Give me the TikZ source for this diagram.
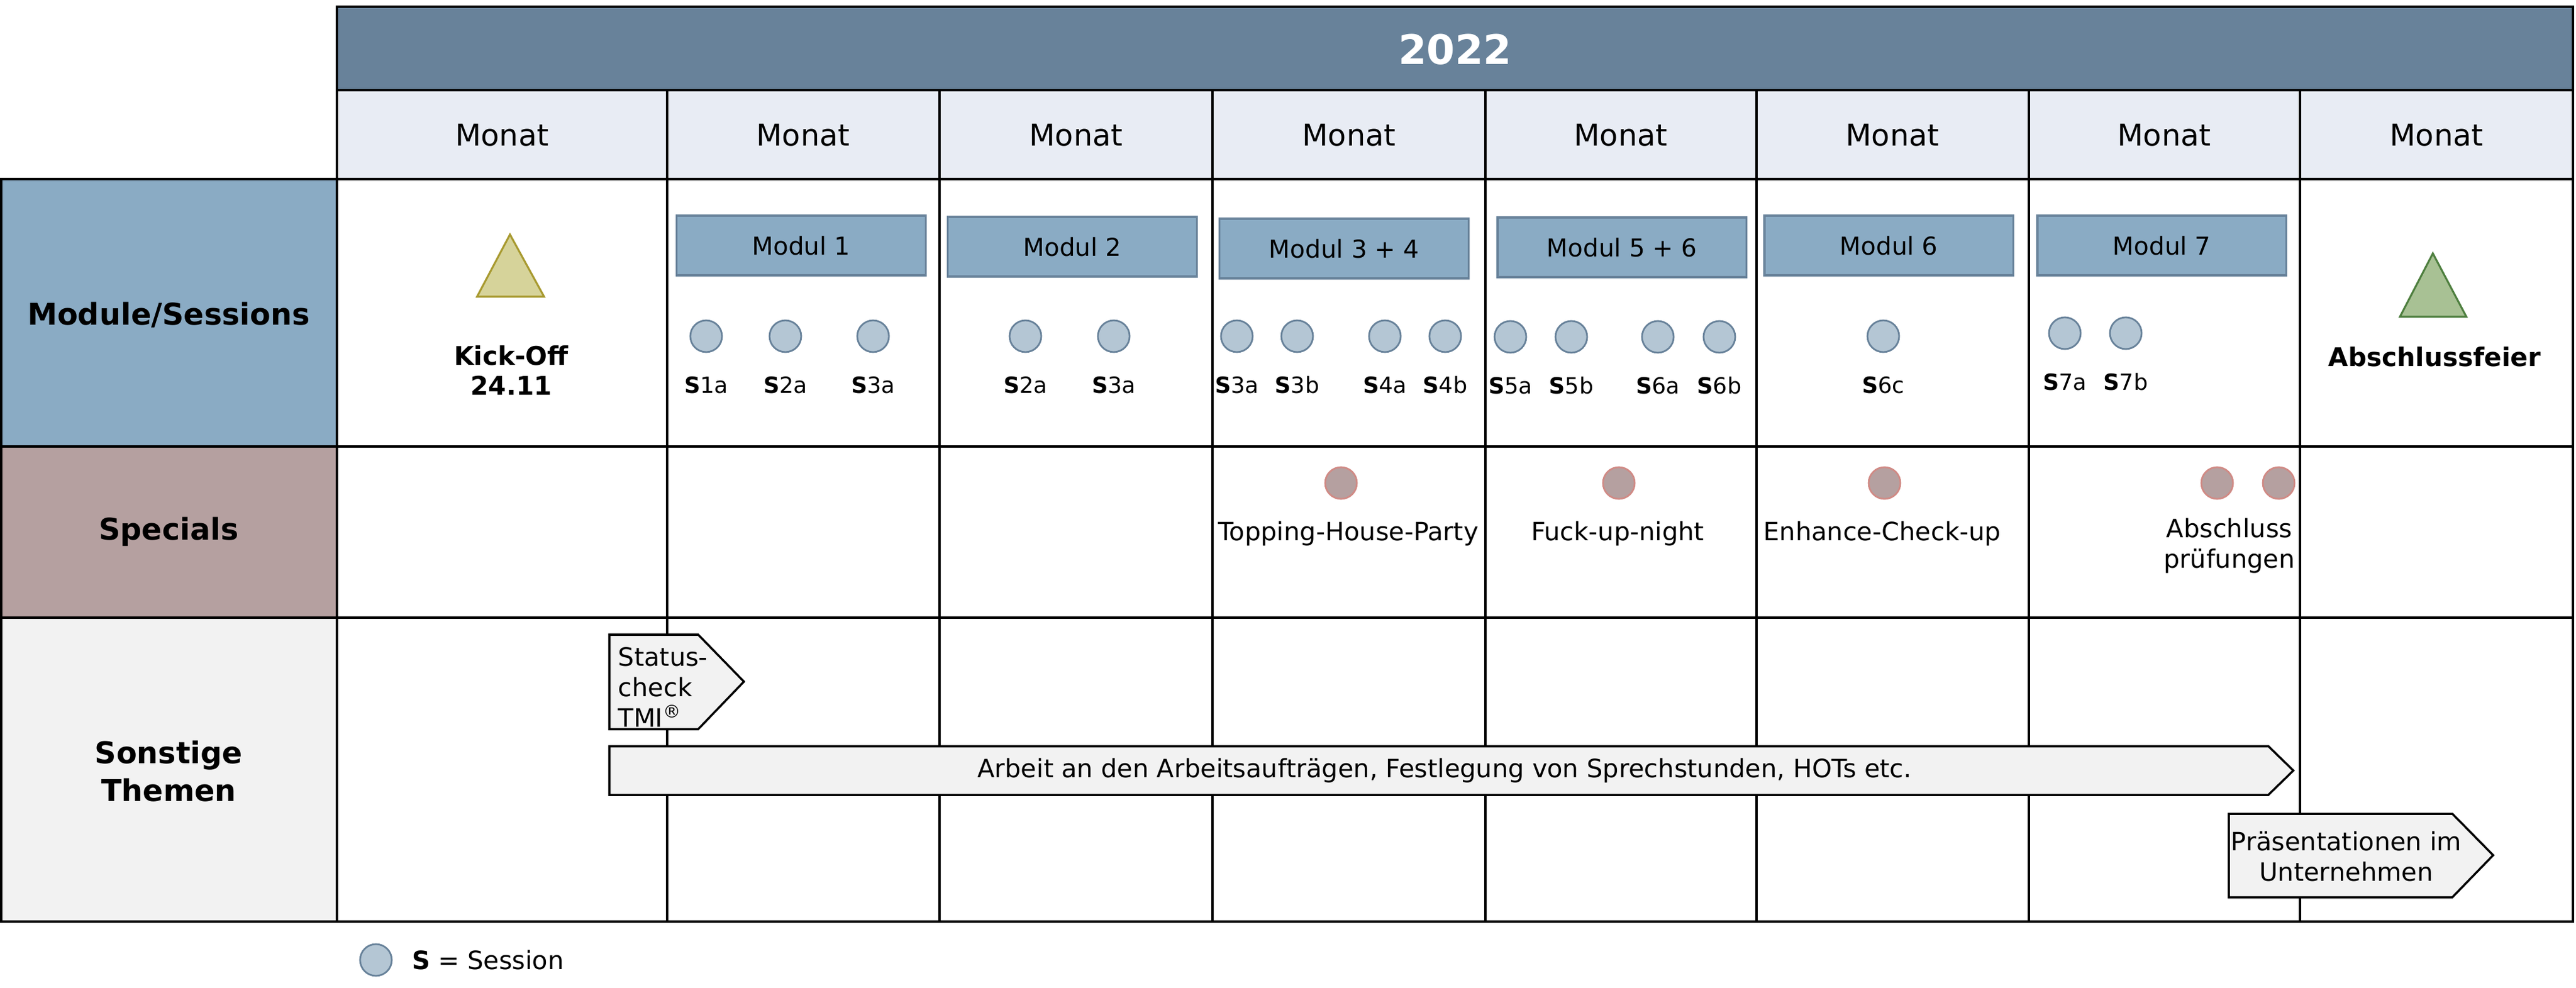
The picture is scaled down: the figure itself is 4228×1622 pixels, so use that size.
\documentclass[tikz,border=0pt]{standalone}
\usepackage{fontspec}
\setmainfont{DejaVu Sans}
\usetikzlibrary{positioning}

\definecolor{yearblue}{HTML}{68829A}
\definecolor{monatgrey}{HTML}{E8ECF4}
\definecolor{modblue}{HTML}{8AABC4}
\definecolor{sessfill}{HTML}{B4C6D4}
\definecolor{specfill}{HTML}{B5A0A0}
\definecolor{specline}{HTML}{D08A85}
\definecolor{otherfill}{HTML}{F2F2F2}
\definecolor{kickfill}{HTML}{D6D39A}
\definecolor{kickline}{HTML}{A89A30}
\definecolor{endfill}{HTML}{A8C194}
\definecolor{endline}{HTML}{4E7F3F}

\begin{document}
\begin{tikzpicture}[
    x=0.01cm, y=-0.01cm,
    grid/.style={line width=1.1pt},
    monat/.style={font=\fontsize{14}{17}\selectfont},
    rowhead/.style={font=\bfseries\fontsize{14}{17.6}\selectfont, align=center},
    modbox/.style={draw=yearblue, fill=modblue, line width=0.9pt, minimum width=4.08cm, minimum height=0.98cm, font=\fontsize{11.5}{14}\selectfont},
    sess/.style={circle, draw=yearblue, fill=sessfill, line width=0.8pt, minimum size=0.52cm, inner sep=0pt},
    slabel/.style={font=\fontsize{10.4}{12}\selectfont, inner sep=0pt, text height=0.73em, text depth=0pt},
    special/.style={circle, draw=specline, fill=specfill, line width=0.8pt, minimum size=0.52cm, inner sep=0pt},
    txt/.style={font=\fontsize{11.8}{14.2}\selectfont, align=center, inner sep=0pt},
    event/.style={font=\bfseries\fontsize{12}{14}\selectfont, align=center, inner sep=0pt},
    bar/.style={draw, fill=otherfill, line width=1pt}
]
\useasboundingbox (0,0) rectangle (4228,1622);

% Fills
\fill[yearblue] (553,11) rectangle (4223,148);
\fill[monatgrey] (553,148) rectangle (4223,294);
\fill[modblue] (0,294) rectangle (553,733);
\fill[specfill] (0,733) rectangle (553,1014);
\fill[otherfill] (0,1014) rectangle (553,1513);

% Grid
\draw[grid] (553,11) rectangle (4223,1513);
\draw[grid] (553,148) -- (4223,148);
\draw[grid] (2,294) -- (2,1513);
\foreach \y in {294,733,1014,1513}
  \draw[grid] (0,\y) -- (4223,\y);
\foreach \x in {1095,1542,1990,2438,2883,3330,3775}
  \draw[grid] (\x,148) -- (\x,1513);

% Header
\node[font=\bfseries\fontsize{19}{22}\selectfont, text=white] (year) at (2388,81) {2022};
\foreach \x [count=\i] in {824,1318,1766,2214,2660,3106,3552,3999}
  \node[monat] (monat\i) at (\x,222) {Monat};

% Row heads
\node[rowhead] (modules) at (277,517) {Module/Sessions};
\node[rowhead] (specials) at (277,873) {Specials};
\node[rowhead] (sonstige) at (277,1266) {Sonstige\\Themen};

% Kick-off and Abschlussfeier
\draw[fill=kickfill, draw=kickline, line width=0.9pt] (837,385) -- (893,487) -- (783,487) -- cycle;
\node[event] (kickoff) at (839,608) {Kick-Off\\24.11};
\draw[fill=endfill, draw=endline, line width=0.9pt] (3993,416) -- (4048,520) -- (3939,520) -- cycle;
\node[event] (feier) at (3996,586) {Abschlussfeier};

% Module
\node[modbox] (mod1) at (1315,403) {Modul 1};
\node[modbox] (mod2) at (1760,405) {Modul 2};
\node[modbox] (mod34) at (2206,408) {Modul 3 + 4};
\node[modbox] (mod56) at (2662,406) {Modul 5 + 6};
\node[modbox] (mod6) at (3100,403) {Modul 6};
\node[modbox] (mod7) at (3548,403) {Modul 7};

% Sessions
\foreach \x/\y/\lab [count=\i] in {1159/552/1a, 1289/552/2a, 1433/552/3a,
    1683/552/2a, 1828/552/3a,
    2030/552/3a, 2129/552/3b, 2273/552/4a, 2372/552/4b,
    2479/553/5a, 2579/553/5b, 2721/553/6a, 2822/553/6b,
    3091/552/6c, 3389/547/7a, 3489/547/7b}{
  \node[sess] (s\i) at (\x,\y) {};
  \node[slabel, below=0.4cm of s\i] (sl\i) {\textbf{S}\lab};
}

% Specials
\node[special] (topping) at (2201,793) {};
\node[txt] (toppingtxt) at (2213,876) {Topping-House-Party};
\node[special] (fuckup) at (2657,793) {};
\node[txt] (fuckuptxt) at (2655,876) {Fuck-up-night};
\node[special] (enhance) at (3093,793) {};
\node[txt] (enhancetxt) at (3089,876) {Enhance-Check-up};
\node[special] (pruef1) at (3639,793) {};
\node[special] (pruef2) at (3740,793) {};
\node[txt] (prueftxt) at (3659,896) {Abschluss\\prüfungen};

% Sonstige Themen
\draw[bar] (1000,1042) -- (1146,1042) -- (1221,1119) -- (1146,1197) -- (1000,1197) -- cycle;
\node[txt, align=left, anchor=west] (status) at (1014,1128) {Status-\\check\\TMI\textsuperscript{®}};
\draw[bar] (1000,1225) -- (3723,1225) -- (3764,1265) -- (3723,1305) -- (1000,1305) -- cycle;
\node[txt] (arbeit) at (2371,1265) {Arbeit an den Arbeitsaufträgen, Festlegung von Sprechstunden, HOTs etc.};
\draw[bar] (3658,1336) -- (4025,1336) -- (4092,1404) -- (4025,1473) -- (3658,1473) -- cycle;
\node[txt] (praes) at (3851,1406) {Präsentationen im\\Unternehmen};

% Legend
\node[sess] (legend) at (617,1576) {};
\node[txt, right=0.31cm of legend] (legendtxt) {\textbf{S} = Session};

\end{tikzpicture}
\end{document}
